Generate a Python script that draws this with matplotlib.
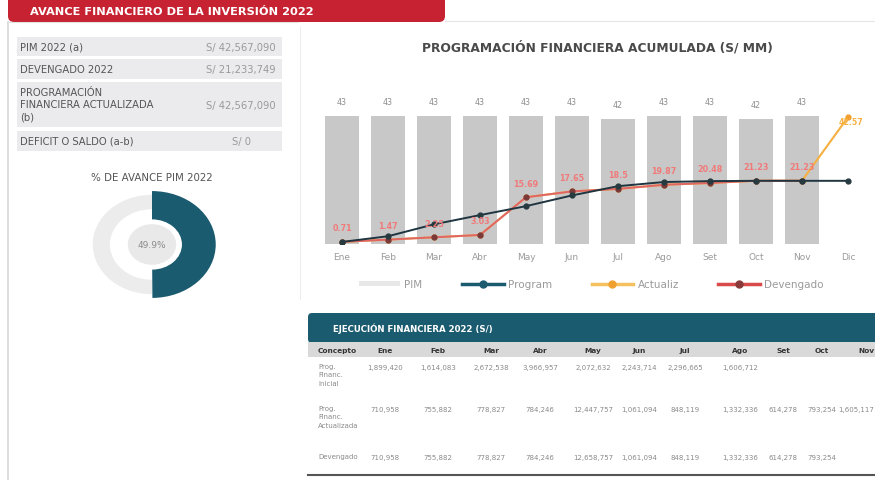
import matplotlib
matplotlib.use("Agg")
import matplotlib.pyplot as plt
from matplotlib.patches import Rectangle, FancyBboxPatch, Circle
from matplotlib.lines import Line2D
from matplotlib.patches import Patch

# ---------------- data ----------------
months = ["Ene", "Feb", "Mar", "Abr", "May", "Jun", "Jul", "Ago", "Set", "Oct", "Nov", "Dic"]
pim = [43, 43, 43, 43, 43, 43, 42, 43, 43, 42, 43]
program = [0.7, 2.6, 6.6, 9.7, 12.7, 16.3, 19.4, 20.8, 21.1, 21.2, 21.2, 21.2]
actualiz = [0.71, 1.47, 2.25, 3.03, 15.69, 17.65, 18.5, 19.87, 20.48, 21.23, 21.23, 42.57]
devengado = [0.71, 1.47, 2.25, 3.03, 15.69, 17.65, 18.5, 19.87, 20.48, 21.23, 21.23]

kpi_labels = ["PIM 2022 (a)", "DEVENGADO 2022", "PROGRAMACIÓN\nFINANCIERA ACTUALIZADA\n(b)", "DEFICIT O SALDO (a-b)"]
kpi_values = ["S/ 42,567,090", "S/ 21,233,749", "S/ 42,567,090", "S/ 0"]
avance_pct = 49.9

table_cols = ["Concepto", "Ene", "Feb", "Mar", "Abr", "May", "Jun", "Jul", "Ago", "Set", "Oct", "Nov"]
row_names = ["Prog.\nFinanc.\nInicial", "Prog.\nFinanc.\nActualizada", "Devengado"]
row_inicial = ["1,899,420", "1,614,083", "2,672,538", "3,966,957", "2,072,632", "2,243,714", "2,296,665", "1,606,712"]
row_actualizada = ["710,958", "755,882", "778,827", "784,246", "12,447,757", "1,061,094", "848,119", "1,332,336", "614,278", "793,254", "1,605,117"]
row_devengado = ["710,958", "755,882", "778,827", "784,246", "12,658,757", "1,061,094", "848,119", "1,332,336", "614,278", "793,254"]

# ---------------- layout helpers ----------------
W, H = 875, 481
fig = plt.figure(figsize=(W / 100, H / 100), dpi=100)
fig.patch.set_facecolor("white")


def px(x0, y0, x1, y1):
    return fig.add_axes([x0 / W, 1 - y1 / H, (x1 - x0) / W, (y1 - y0) / H])


bg = fig.add_axes([0, 0, 1, 1])
bg.set_xlim(0, W)
bg.set_ylim(H, 0)
bg.axis("off")

RED = "#c62232"
TEAL = "#1b5b70"
GRAY_TXT = "#555555"
LIGHT_TXT = "#9a9a9a"

# header tab
bg.add_patch(FancyBboxPatch((8, -8), 437, 31, boxstyle="round,pad=0,rounding_size=6",
                            facecolor=RED, edgecolor="none"))
bg.text(30, 12, "AVANCE FINANCIERO DE LA INVERSIÓN 2022", color="white", fontsize=8.2,
        fontweight="bold", va="center", ha="left")

# panel borders
bg.plot([8, 8], [23, 481], color="#d6d6d6", lw=1.2)
bg.plot([8, 298], [23, 23], color="#e2e2e2", lw=0.8)
bg.plot([445, 875], [22, 22], color="#e6e6e6", lw=0.8)
bg.plot([300, 300], [28, 300], color="#eeeeee", lw=0.8)

# KPI rows
kpi_boxes = [(38, 57), (60, 80), (83, 128), (132, 152)]
for (y0, y1), lab, val in zip(kpi_boxes, kpi_labels, kpi_values):
    bg.add_patch(Rectangle((17, y0), 265, y1 - y0, facecolor="#ebebee", edgecolor="none"))
    bg.text(20, (y0 + y1) / 2, lab, fontsize=7.2, color=GRAY_TXT, va="center", ha="left",
            linespacing=1.25)
    bg.text(241, (y0 + y1) / 2, val, fontsize=7.2, color=LIGHT_TXT, va="center", ha="center")

# donut title
bg.text(152, 178, "% DE AVANCE PIM 2022", fontsize=7.4, color=GRAY_TXT, ha="center", va="center")

# donut
dax = px(87, 191, 217, 300)
dax.pie([avance_pct, 100 - avance_pct], radius=0.93, startangle=90, counterclock=False,
        colors=["none", "#ececec"], wedgeprops=dict(width=0.27, edgecolor="none"))
dax.pie([avance_pct, 100 - avance_pct], radius=1.0, startangle=90, counterclock=False,
        colors=[TEAL, "none"], wedgeprops=dict(width=0.53, edgecolor="none"))
dax.add_patch(Circle((0, 0), 0.38, facecolor="#e9e9e9", edgecolor="none"))
dax.text(0, 0, f"{avance_pct}%", fontsize=6.5, color="#8a8a8a", ha="center", va="center")
dax.set_xlim(-1.02, 1.02)
dax.set_ylim(-1.02, 1.02)
dax.set_aspect("auto")
dax.axis("off")

# chart title
bg.text(597, 48, "PROGRAMACIÓN FINANCIERA ACUMULADA (S/ MM)", fontsize=8.8, fontweight="bold",
        color="#4a4a4a", ha="center", va="center")

# main chart
ax = px(319, 110, 871, 245)
x_all = list(range(len(months)))
x_bar = list(range(len(pim)))
ax.bar(x_bar, pim, width=0.72, color="#c8c8c8", zorder=1, label="PIM")
for xi, v in zip(x_bar, pim):
    ax.annotate(f"{v}", (xi, v), xytext=(0, 7), textcoords="offset points",
                ha="center", va="bottom", fontsize=5.8, color="#8d8d8d")

ax.plot(x_all, actualiz, color="#f5b041", lw=1.5, marker="o", ms=3.5,
        mfc="#f0a030", mec="#f0a030", zorder=2, label="Actualiz")
ax.plot(x_all, program, color="#1f3540", lw=1.4, marker="o", ms=3.5,
        mfc="#263a40", mec="#263a40", zorder=4, label="Program")
ax.plot(x_bar, devengado, color="#e06666", lw=1.4, marker="o", ms=3.5,
        mfc="#7a3a3a", mec="#7a3a3a", zorder=3, label="Devengado")
for xi, v in zip(x_bar, devengado):
    ax.annotate(f"{v:g}", (xi, v), xytext=(0, 7), textcoords="offset points",
                ha="center", va="bottom", fontsize=5.8, color="#f07a7a", fontweight="bold", zorder=5)
ax.annotate(f"{actualiz[-1]:g}", (x_all[-1], actualiz[-1]), xytext=(2, -3),
            textcoords="offset points", ha="center", va="center", fontsize=5.6,
            color="#f5b041", fontweight="bold", zorder=5)

ax.set_xlim(-0.5, 11.5)
ax.set_ylim(0, 45.3)
ax.set_yticks([])
ax.set_xticks(x_all)
ax.set_xticklabels(months, fontsize=6.5, color=LIGHT_TXT)
ax.tick_params(axis="x", length=0, pad=6)
for s in ax.spines.values():
    s.set_visible(False)
ax.patch.set_alpha(0)

handles = [
    Patch(facecolor="#e8e8e8", edgecolor="none", label="PIM"),
    Line2D([], [], color=TEAL, lw=2.5, marker="o", ms=5, mfc=TEAL, mec=TEAL, label="Program"),
    Line2D([], [], color="#f5c060", lw=2.5, marker="o", ms=5, mfc="#f0a030", mec="#f0a030", label="Actualiz"),
    Line2D([], [], color="#d94a4a", lw=2.5, marker="o", ms=5, mfc="#8a3a3a", mec="#8a3a3a", label="Devengado"),
]
leg = ax.legend(handles=handles, ncol=4, loc="center", bbox_to_anchor=(0.493, -0.3),
                frameon=False, fontsize=7.5, handlelength=4.0, handleheight=0.4,
                columnspacing=3.8, handletextpad=0.4)
for t in leg.get_texts():
    t.set_color(LIGHT_TXT)

# table
bg.add_patch(FancyBboxPatch((308, 314), 580, 30, boxstyle="round,pad=0,rounding_size=4",
                            facecolor=TEAL, edgecolor="none"))
bg.text(333, 329, "EJECUCIÓN FINANCIERA 2022 (S/)", fontsize=6.2, fontweight="bold",
        color="white", va="center", ha="left")
bg.add_patch(Rectangle((308, 343), 580, 15, facecolor="#d9d9d9", edgecolor="none"))
col_x = [318, 385, 438, 491, 540, 593, 639, 685, 740, 783, 822, 866]
for i, (c, cx) in enumerate(zip(table_cols, col_x)):
    bg.text(cx, 351, c, fontsize=5.3, fontweight="bold", color="#333333",
            ha="left" if i == 0 else "center", va="center")

row_y = [368, 410, 458]
rows = [row_inicial, row_actualizada, row_devengado]
for name, y, vals in zip(row_names, row_y, rows):
    bg.text(318, y - 4, name, fontsize=5, color="#8a8a8a", ha="left", va="top", linespacing=1.5)
    for j, (cx, v) in enumerate(zip(col_x[1:], vals)):
        if j == len(col_x) - 2:
            bg.text(874, y, v, fontsize=5, color="#8a8a8a", ha="right", va="center")
        else:
            bg.text(cx, y, v, fontsize=5, color="#8a8a8a", ha="center", va="center")
bg.plot([308, 875], [476, 476], color="#555555", lw=1.5)

fig.savefig("out.png", dpi=100)
